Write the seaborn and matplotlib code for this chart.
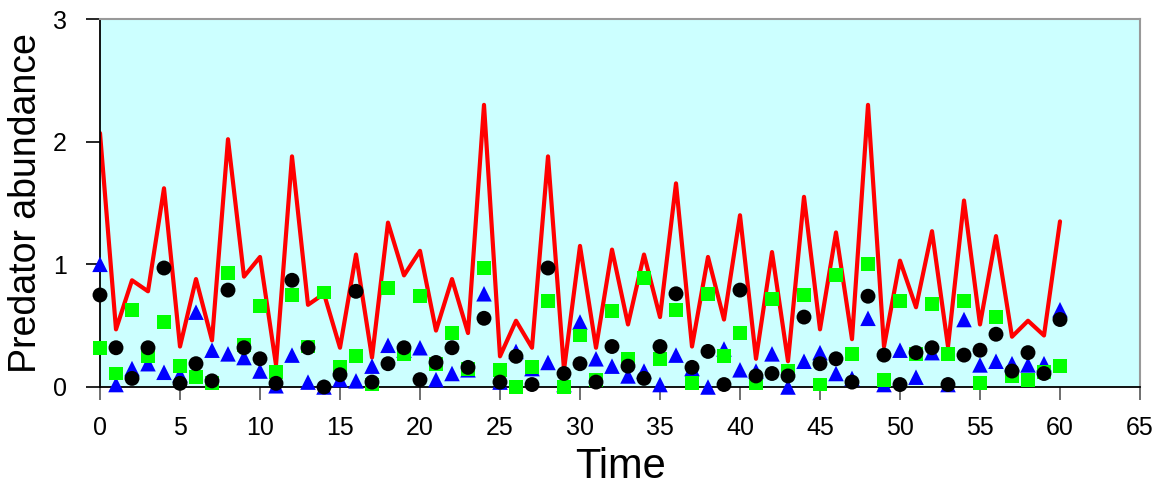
import numpy as np
import pandas as pd
import matplotlib
matplotlib.use("Agg")
import matplotlib.pyplot as plt
import seaborn as sns

time = list(range(61))
red_line = [2.07, 0.47, 0.87, 0.78, 1.62, 0.33, 0.88, 0.38, 2.02, 0.90,
            1.06, 0.18, 1.88, 0.67, 0.76, 0.32, 1.08, 0.24, 1.34, 0.91,
            1.11, 0.46, 0.88, 0.44, 2.30, 0.25, 0.54, 0.32, 1.88, 0.14,
            1.15, 0.32, 1.12, 0.51, 1.08, 0.57, 1.66, 0.33, 1.06, 0.55,
            1.40, 0.23, 1.10, 0.21, 1.55, 0.47, 1.26, 0.39, 2.30, 0.33,
            1.03, 0.65, 1.27, 0.33, 1.52, 0.51, 1.23, 0.41, 0.54, 0.42, 1.35]
black_circles = [0.75, 0.32, 0.07, 0.32, 0.97, 0.03, 0.19, 0.05, 0.79, 0.32,
                 0.23, 0.03, 0.87, 0.32, 0.00, 0.10, 0.78, 0.04, 0.19, 0.32,
                 0.06, 0.20, 0.32, 0.16, 0.56, 0.04, 0.25, 0.02, 0.97, 0.11,
                 0.19, 0.04, 0.33, 0.17, 0.07, 0.33, 0.76, 0.16, 0.29, 0.02,
                 0.79, 0.09, 0.11, 0.09, 0.57, 0.19, 0.23, 0.04, 0.74, 0.26,
                 0.02, 0.28, 0.32, 0.02, 0.26, 0.30, 0.43, 0.13, 0.28, 0.11, 0.55]
green_squares = [0.32, 0.11, 0.63, 0.25, 0.53, 0.17, 0.08, 0.03, 0.93, 0.34,
                 0.66, 0.12, 0.75, 0.33, 0.77, 0.16, 0.25, 0.02, 0.81, 0.27,
                 0.74, 0.19, 0.44, 0.15, 0.97, 0.14, 0.00, 0.16, 0.70, 0.00,
                 0.42, 0.06, 0.62, 0.23, 0.89, 0.23, 0.63, 0.03, 0.76, 0.25,
                 0.44, 0.03, 0.72, 0.13, 0.75, 0.02, 0.91, 0.27, 1.00, 0.06,
                 0.70, 0.27, 0.68, 0.27, 0.70, 0.03, 0.57, 0.09, 0.06, 0.12, 0.17]
blue_triangles = [1.00, 0.02, 0.15, 0.19, 0.12, 0.10, 0.61, 0.30, 0.27, 0.24,
                  0.13, 0.01, 0.26, 0.04, 0.00, 0.06, 0.05, 0.17, 0.34, 0.30,
                  0.32, 0.06, 0.11, 0.14, 0.76, 0.04, 0.29, 0.15, 0.20, 0.02,
                  0.53, 0.23, 0.17, 0.09, 0.13, 0.02, 0.26, 0.15, 0.00, 0.31,
                  0.14, 0.13, 0.27, 0.00, 0.21, 0.28, 0.11, 0.07, 0.56, 0.02,
                  0.30, 0.08, 0.28, 0.02, 0.55, 0.18, 0.21, 0.19, 0.18, 0.19, 0.63]

x_ticks = list(range(0, 66, 5))
y_ticks = [0, 1, 2, 3]
x_label = "Time"
y_label = "Predator abundance"

df = pd.DataFrame({"Time": time, "red": red_line, "black": black_circles,
                   "green": green_squares, "blue": blue_triangles})

sns.set_style("ticks")
plt.rcParams["font.family"] = ["Liberation Sans", "DejaVu Sans"]
plt.rcParams["text.color"] = "black"
plt.rcParams["axes.labelcolor"] = "black"
plt.rcParams["xtick.color"] = "black"
plt.rcParams["ytick.color"] = "black"
plt.rcParams["xtick.labelcolor"] = "black"
plt.rcParams["ytick.labelcolor"] = "black"

fig = plt.figure(figsize=(11.65, 4.88), dpi=100)
ax = fig.add_axes([100 / 1165, 1 - 387 / 488, 1040 / 1165, 368 / 488])
ax.set_facecolor("#CCFFFF")

sns.lineplot(data=df, x="Time", y="red", ax=ax, color="#FF0000", linewidth=3,
             zorder=2)
sns.scatterplot(data=df, x="Time", y="blue", ax=ax, marker="^", color="#0000FF",
                s=125, edgecolor="none", zorder=3, clip_on=False)
sns.scatterplot(data=df, x="Time", y="green", ax=ax, marker="s", color="#00FF00",
                s=100, edgecolor="none", zorder=4, clip_on=False)
sns.scatterplot(data=df, x="Time", y="black", ax=ax, marker="o", color="black",
                s=115, edgecolor="none", zorder=5, clip_on=False)

ax.set_xlim(0, 65)
ax.set_ylim(0, 3)
ax.set_xticks(x_ticks)
ax.set_yticks(y_ticks)
ax.tick_params(axis="x", direction="out", length=9, width=1.2, color="#555555",
               labelcolor="black", labelsize=18, pad=12)
ax.tick_params(axis="y", direction="out", length=10, width=1.2, color="black",
               labelcolor="black", labelsize=18, pad=14)

for side in ["left", "bottom"]:
    ax.spines[side].set_color("black")
    ax.spines[side].set_linewidth(1.3)
for side in ["top", "right"]:
    ax.spines[side].set_visible(True)
    ax.spines[side].set_color("#999999")
    ax.spines[side].set_linewidth(1.5)

ax.set_xlabel(x_label, fontsize=30, labelpad=5, color="black")
ax.set_ylabel(y_label, fontsize=27, labelpad=6, color="black")

fig.savefig("out.png", dpi=100)
